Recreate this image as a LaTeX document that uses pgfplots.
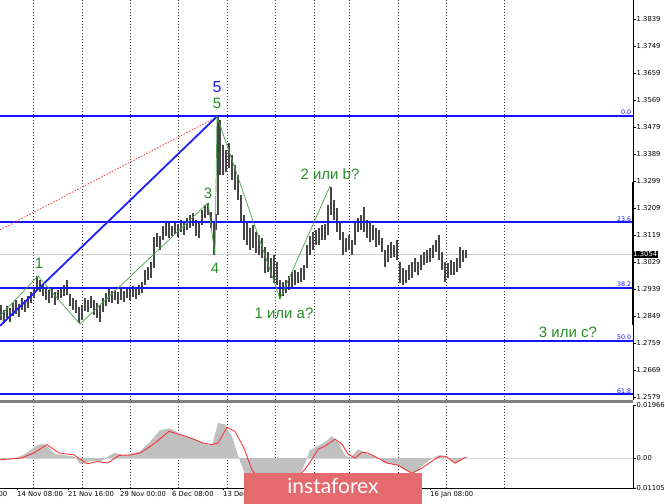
\documentclass[border=0pt]{standalone}
\usepackage{fontspec}
\setmainfont{DejaVu Sans}
\newfontfamily\arial{Liberation Sans}
\newfontfamily\lato{Lato}
\usepackage{pgfplots}
\usepackage{pgfplotstable}
\pgfplotsset{compat=1.18}
\definecolor{fibblue}{RGB}{20,20,255}
\definecolor{wavegreen}{RGB}{40,140,40}
\definecolor{linegreen}{RGB}{70,165,70}
\definecolor{barcol}{RGB}{70,70,70}
\definecolor{logored}{RGB}{228,106,110}
\definecolor{histgray}{RGB}{192,192,192}
\definecolor{sigred}{RGB}{255,40,40}
\definecolor{bluewave}{RGB}{30,30,255}

\pgfplotstableread{
x lo hi
1 1.2836 1.2886
4 1.2826 1.2869
7 1.2842 1.2882
10 1.2829 1.2876
13 1.2849 1.2892
16 1.2856 1.2902
19 1.2846 1.2889
22 1.2869 1.2909
25 1.2862 1.2902
28 1.2876 1.2916
31 1.2892 1.2929
34 1.2909 1.2946
37 1.2936 1.2982
40 1.2929 1.2969
43 1.2916 1.2956
46 1.2902 1.2942
49 1.2892 1.2936
52 1.2909 1.2946
55 1.2886 1.2929
58 1.2902 1.2936
61 1.2909 1.2942
64 1.2916 1.2952
67 1.2919 1.2969
70 1.2882 1.2922
73 1.2869 1.2909
76 1.2859 1.2902
79 1.2826 1.2879
82 1.2836 1.2886
85 1.2866 1.2909
88 1.2862 1.2902
91 1.2876 1.2916
94 1.2852 1.2902
97 1.2842 1.2892
100 1.2829 1.2886
103 1.2862 1.2909
106 1.2882 1.2926
109 1.2896 1.2942
112 1.2892 1.2932
115 1.2902 1.2936
118 1.2889 1.2929
121 1.2902 1.2939
124 1.2896 1.2932
127 1.2909 1.2946
130 1.2902 1.2939
133 1.2912 1.2949
136 1.2906 1.2942
139 1.2919 1.2952
142 1.2926 1.2962
145 1.2952 1.3002
148 1.2969 1.3012
151 1.2976 1.3029
154 1.3009 1.3112
157 1.3079 1.3126
160 1.3069 1.3116
163 1.3102 1.3149
166 1.3116 1.3162
169 1.3109 1.3159
172 1.3116 1.3149
175 1.3122 1.3162
178 1.3112 1.3156
181 1.3129 1.3169
184 1.3119 1.3162
187 1.3136 1.3176
190 1.3142 1.3186
193 1.3149 1.3192
196 1.3116 1.3169
199 1.3109 1.3162
202 1.3152 1.3202
205 1.3176 1.3219
208 1.3186 1.3226
211 1.3142 1.3196
214 1.3052 1.3162
216 1.3136 1.3189
218 1.3186 1.3512
220 1.3319 1.3502
223 1.3319 1.3419
226 1.3329 1.3402
229 1.3342 1.3426
232 1.3302 1.3386
235 1.3269 1.3352
238 1.3236 1.3319
241 1.3162 1.3252
244 1.3102 1.3186
247 1.3086 1.3162
250 1.3069 1.3142
253 1.3076 1.3152
256 1.3059 1.3129
259 1.3052 1.3119
262 1.3042 1.3109
265 1.2992 1.3079
268 1.2996 1.3062
271 1.2976 1.3042
274 1.2959 1.3052
277 1.2952 1.3029
280 1.2906 1.2969
283 1.2916 1.2962
286 1.2926 1.2969
289 1.2936 1.2982
292 1.2942 1.2996
295 1.2952 1.3002
298 1.2959 1.2996
301 1.2962 1.3009
304 1.2969 1.3019
307 1.3009 1.3086
310 1.3052 1.3116
313 1.3069 1.3129
316 1.3086 1.3136
319 1.3086 1.3142
322 1.3102 1.3152
325 1.3102 1.3156
328 1.3119 1.3219
331 1.3186 1.3279
334 1.3169 1.3236
337 1.3129 1.3209
340 1.3102 1.3162
343 1.3052 1.3129
346 1.3062 1.3109
349 1.3069 1.3119
352 1.3052 1.3102
355 1.3086 1.3162
358 1.3129 1.3176
361 1.3136 1.3186
364 1.3129 1.3212
367 1.3109 1.3169
370 1.3096 1.3162
373 1.3102 1.3152
376 1.3079 1.3142
379 1.3086 1.3136
382 1.3062 1.3109
385 1.3012 1.3069
388 1.3029 1.3086
391 1.3042 1.3096
394 1.3046 1.3086
397 1.3036 1.3102
400 1.2959 1.3029
403 1.2952 1.3009
406 1.2959 1.3002
409 1.2969 1.3019
412 1.2976 1.3029
415 1.2996 1.3042
418 1.2986 1.3029
421 1.3002 1.3052
424 1.3019 1.3062
427 1.3026 1.3069
430 1.3029 1.3076
433 1.3042 1.3086
436 1.3062 1.3102
439 1.3036 1.3119
442 1.3002 1.3062
445 1.2962 1.3029
448 1.2976 1.3026
451 1.2986 1.3036
454 1.2986 1.3029
457 1.2996 1.3042
460 1.3009 1.3079
463 1.3029 1.3069
466 1.3042 1.3069
}\bars

\begin{document}
\begin{tikzpicture}
\useasboundingbox (0pt,0pt) rectangle (665pt,504pt);
\begin{axis}[
  at={(0pt,104pt)}, anchor=south west, width=633pt, height=400pt, scale only axis,
  xmin=0, xmax=633, ymin=1.2569, ymax=1.3902, clip=false,
  axis line style={draw=none},
  xtick={33,82,130,178,227,275,314,349,398,446,504}, xticklabels={},
  xmajorgrids, x tick style={draw=none},
  grid style={black!80, dash pattern=on 1pt off 2pt, line width=0.5pt},
  ytick={1.2579,1.2669,1.2759,1.2849,1.2939,1.3029,1.3119,1.3209,1.3299,1.3389,1.3479,1.3569,1.3659,1.3749,1.3839},
  yticklabels={1.2579,1.2669,1.2759,1.2849,1.2939,1.3029,1.3119,1.3209,1.3299,1.3389,1.3479,1.3569,1.3659,1.3749,1.3839},
  scaled y ticks=false,
  ytick pos=right, yticklabel pos=right, tick align=outside, major tick length=2.5pt,
  y tick style={black, line width=0.5pt},
  yticklabel style={font=\fontsize{6.8}{8}\selectfont, anchor=west, inner sep=0.5pt, xshift=0.5pt},
]
\addplot[black!20, line width=0.7pt] coordinates {(0,1.3054) (633,1.3054)};
\addplot[barcol, line width=1.4pt, quiver={u=0, v=\thisrow{hi}-\thisrow{lo}}] table[x=x, y=lo] {\bars};
% Fibonacci levels
\addplot[fibblue, line width=1.6pt] coordinates {(0,1.3516) (633,1.3516)};
\addplot[fibblue, line width=1.6pt] coordinates {(0,1.3162) (633,1.3162)};
\addplot[fibblue, line width=1.6pt] coordinates {(0,1.2943) (633,1.2943)};
\addplot[fibblue, line width=1.6pt] coordinates {(0,1.2766) (633,1.2766)};
\addplot[fibblue, line width=1.6pt] coordinates {(0,1.2589) (633,1.2589)};
\node[anchor=south east, inner sep=0.6pt, text=fibblue, font=\fontsize{6.3}{7}\selectfont] at (axis cs:632,1.3516) {0.0};
\node[anchor=south east, inner sep=0.6pt, text=fibblue, font=\fontsize{6.3}{7}\selectfont] at (axis cs:632,1.3162) {23.6};
\node[anchor=south east, inner sep=0.6pt, text=fibblue, font=\fontsize{6.3}{7}\selectfont] at (axis cs:632,1.2943) {38.2};
\node[anchor=south east, inner sep=0.6pt, text=fibblue, font=\fontsize{6.3}{7}\selectfont] at (axis cs:632,1.2766) {50.0};
\node[anchor=south east, inner sep=0.6pt, text=fibblue, font=\fontsize{6.3}{7}\selectfont] at (axis cs:632,1.2589) {61.8};
% red dotted trend line
\addplot[sigred, line width=0.7pt, dash pattern=on 1.5pt off 1.5pt] coordinates {(0,1.3136) (215,1.3509)};
% blue wave line
\addplot[bluewave, line width=1.8pt] coordinates {(0,1.2816) (217,1.3514)};
% green zigzag
\addplot[linegreen, line width=0.7pt] coordinates {(0,1.2849) (38,1.2982) (80,1.2822) (208,1.3226) (215,1.3052) (217,1.3514) (280,1.2906) (330,1.3282)};
% wave labels
\node[text=bluewave, font=\arial\fontsize{16}{16}\selectfont] at (axis cs:217,1.3612) {5};
\node[text=wavegreen, font=\arial\fontsize{15}{15}\selectfont] at (axis cs:217,1.3556) {5};
\node[text=wavegreen, font=\arial\fontsize{15}{15}\selectfont] at (axis cs:39,1.3026) {1};
\node[text=wavegreen, font=\arial\fontsize{15}{15}\selectfont] at (axis cs:208,1.3259) {3};
\node[text=wavegreen, font=\arial\fontsize{15}{15}\selectfont] at (axis cs:215,1.3009) {4};
\node[text=wavegreen, font=\arial\fontsize{15}{15}\selectfont] at (axis cs:330,1.3322) {2 или b?};
\node[text=wavegreen, font=\arial\fontsize{15}{15}\selectfont] at (axis cs:284,1.2859) {1 или a?};
\node[text=wavegreen, font=\arial\fontsize{15}{15}\selectfont] at (axis cs:568,1.2796) {3 или c?};
% right axis line and current price
\draw[black, line width=0.8pt] (rel axis cs:1,0) -- (rel axis cs:1,1);
\draw[black, line width=2.4pt] (axis cs:633,1.3296) -- (axis cs:633,1.2819);
\node[fill=black, text=white, anchor=west, inner sep=0.7pt, font=\fontsize{6.8}{8}\selectfont] at (axis cs:632.5,1.3054) {1.3054};
\fill[black!50] (rel axis cs:0,0) rectangle ([yshift=-3.5pt]rel axis cs:1,0);
\end{axis}

\begin{axis}[
  at={(0pt,16pt)}, anchor=south west, width=633pt, height=83pt, scale only axis,
  xmin=0, xmax=633, ymin=-0.01105, ymax=0.01966, clip=false,
  axis line style={draw=none},
  xtick={17,68,120,172,223,430},
  xticklabels={14 Nov 08:00,21 Nov 16:00,29 Nov 00:00,6 Dec 08:00,13 Dec 16:00,16 Jan 08:00},
  xtick pos=bottom, tick align=outside, major tick length=2.5pt,
  x tick style={black, line width=0.5pt}, y tick style={black, line width=0.5pt},
  xticklabel style={font=\fontsize{6.8}{8}\selectfont, anchor=north west, inner sep=0.5pt, xshift=-0.5pt, yshift=-0.5pt},
  extra x ticks={33,82,130,178,227,275,314,349,398,446,504}, extra x tick labels={},
  extra x tick style={grid=major, major tick length=0pt},
  grid style={black!80, dash pattern=on 1pt off 2pt, line width=0.5pt},
  ytick={-0.01105,0,0.01966}, yticklabels={\llap{-}0.01105,0.00,0.01966},
  scaled y ticks=false,
  ytick pos=right, yticklabel pos=right,
  yticklabel style={font=\fontsize{6.8}{8}\selectfont, anchor=west, inner sep=0.5pt, xshift=0.5pt},
]
\addplot[black!15, line width=1.2pt] coordinates {(0,0) (633,0)};
\addplot[fill=histgray, draw=none] coordinates {(0,-0.0004) (15,0) (25,0.0015) (38,0.005) (45,0.0052) (55,0.0015) (65,0.0011) (75,0.0005) (80,-0.0022) (90,-0.0011) (100,-0.0015) (110,0.0011) (115,0.0019) (125,0.0011) (140,0.0025) (150,0.006) (160,0.0104) (170,0.011) (180,0.009) (195,0.007) (205,0.0052) (212,0.0048) (218,0.013) (225,0.0125) (232,0.008) (238,0.001) (245,-0.006) (255,-0.009) (270,-0.010) (290,-0.009) (300,-0.006) (305,-0.002) (310,0.003) (318,0.0045) (325,0.006) (332,0.0081) (338,0.006) (345,0.001) (350,0) (358,0.0033) (365,0.002) (375,0.0005) (380,0) (385,-0.002) (395,-0.0022) (405,-0.0045) (412,-0.0055) (418,-0.0045) (425,-0.002) (432,0) (440,0.0011) (447,0.0005) (455,-0.0019) (462,-0.0007) (468,0.0005)} \closedcycle;
\addplot[sigred, line width=0.8pt] coordinates {(0,-0.0006) (21,0) (34,0.0019) (47,0.005) (59,0.0019) (74,0.0012) (87,-0.0021) (97,-0.0013) (108,-0.0018) (119,0.001) (131,0.0012) (140,0.0019) (153,0.005) (169,0.0099) (186,0.0081) (203,0.0056) (212,0.005) (218,0.0056) (227,0.0114) (235,0.0099) (244,0.0037) (252,-0.0045) (258,-0.0068) (268,-0.0085) (282,-0.0088) (296,-0.0075) (305,-0.0041) (312,-0.0004) (318,0.0033) (325,0.0044) (335,0.007) (342,0.0052) (348,0.0015) (355,0) (362,0.0022) (368,0.0019) (378,0) (388,-0.0019) (398,-0.0026) (412,-0.0056) (422,-0.0037) (432,-0.0011) (440,0.0007) (446,0.0007) (455,-0.0019) (466,0.0004)};
\draw[black, line width=0.8pt] (rel axis cs:1,0) -- (rel axis cs:1,1);
\draw[black, line width=0.8pt] (rel axis cs:0,0) -- (rel axis cs:1,0);
\node[anchor=north east, inner sep=0.5pt, font=\fontsize{6.8}{8}\selectfont] at ([yshift=-3pt]axis cs:8,-0.01105) {7 Nov 00:00};
\end{axis}
\fill[logored] (244pt,0pt) rectangle (422pt,31pt);
\node[text=white, font=\lato\fontsize{21}{21}\selectfont, anchor=base] at (333pt,10pt) {instaforex};
\end{tikzpicture}
\end{document}
